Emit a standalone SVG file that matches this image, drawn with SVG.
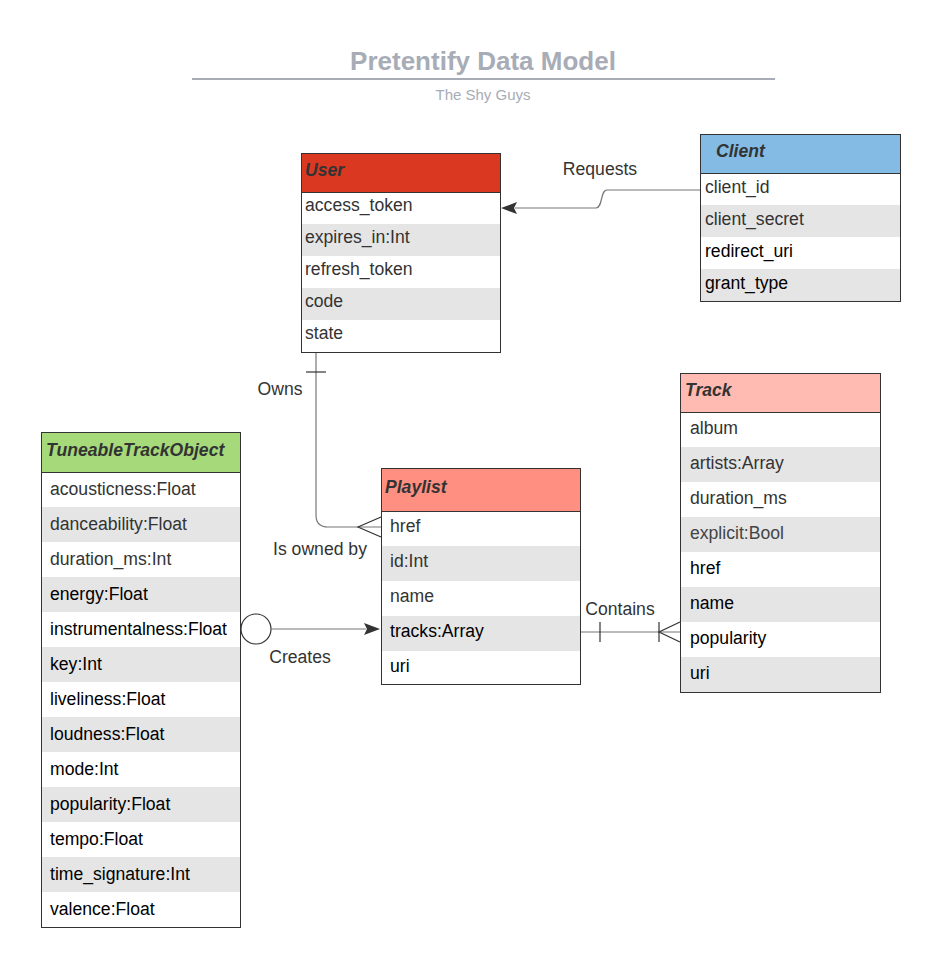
<svg xmlns="http://www.w3.org/2000/svg" width="947" height="967" viewBox="0 0 947 967">
<style>
text{font-family:"Liberation Sans",Arial,sans-serif;font-size:17.6px;fill:#333}
.hd{font-weight:bold;font-style:italic}
.b{fill:#000}
.g{fill:#e5e5e5}
.w{fill:#fff}
.frame{fill:none;stroke:#333;stroke-width:1}
.sep{stroke:#333;stroke-width:1}
.ln{fill:none;stroke:#777;stroke-width:1.2}
.mk{fill:none;stroke:#333;stroke-width:1.2}
.lbl{fill:#333}
</style>
<rect x="0" y="0" width="947" height="967" fill="#fff"/>
<g id="title">
<text x="483" y="70" text-anchor="middle" style="font-size:26px;font-weight:bold;fill:#a7acb6">Pretentify Data Model</text>
<line x1="192" y1="79" x2="775" y2="79" stroke="#a7acb6" stroke-width="2"/>
<text x="483" y="100" text-anchor="middle" style="font-size:15px;fill:#a7acb6">The Shy Guys</text>
</g>
<g id="connectors">
<path class="ln" d="M700,190 H607 C600,190 603,208 596,208 H515"/>
<polygon points="501,208 517,202 514,208 517,214" fill="#333"/>
<text x="600" y="175" text-anchor="middle">Requests</text>
<path class="ln" d="M316,352 V515 Q316,527 328,527 H381"/>
<line class="mk" x1="306" y1="372" x2="326" y2="372"/>
<path class="mk" d="M381,517 L358,527 L381,537"/>
<text x="280" y="395" text-anchor="middle">Owns</text>
<text x="320" y="555" text-anchor="middle">Is owned by</text>
<circle cx="256" cy="629" r="15" fill="#fff" stroke="#333" stroke-width="1.2"/>
<line class="ln" x1="271" y1="629" x2="366" y2="629"/>
<polygon points="380,629 364,623 367,629 364,635" fill="#333"/>
<text x="300" y="663" text-anchor="middle">Creates</text>
<line class="ln" x1="580" y1="632" x2="680" y2="632"/>
<line class="mk" x1="600" y1="622" x2="600" y2="642"/>
<line class="mk" x1="659" y1="622" x2="659" y2="642"/>
<path class="mk" d="M680,622 L659,632 L680,642"/>
<text x="620" y="615" text-anchor="middle">Contains</text>
</g>
<g id="user">
<rect x="301" y="153" width="199" height="39" fill="#da3821"/>
<rect class="w" x="301" y="192" width="199" height="32"/>
<rect class="g" x="301" y="224" width="199" height="32"/>
<rect class="w" x="301" y="256" width="199" height="32"/>
<rect class="g" x="301" y="288" width="199" height="32"/>
<rect class="w" x="301" y="320" width="199" height="32"/>
<line class="sep" x1="301" y1="192.5" x2="500" y2="192.5"/>
<rect class="frame" x="301.5" y="153.5" width="199" height="199"/>
<text class="hd" x="305" y="176">User</text>
<text x="305" y="211">access_token</text>
<text x="305" y="243">expires_in:Int</text>
<text x="305" y="275">refresh_token</text>
<text x="305" y="307">code</text>
<text x="305" y="339">state</text>
</g>
<g id="client">
<rect x="700" y="134" width="200" height="39" fill="#83bbe5"/>
<rect class="w" x="700" y="173" width="200" height="32"/>
<rect class="g" x="700" y="205" width="200" height="32"/>
<rect class="w" x="700" y="237" width="200" height="32"/>
<rect class="g" x="700" y="269" width="200" height="32"/>
<line class="sep" x1="700" y1="173.5" x2="900" y2="173.5"/>
<rect class="frame" x="700.5" y="134.5" width="200" height="167"/>
<text class="hd" x="716" y="157">Client</text>
<text x="705" y="193">client_id</text>
<text x="705" y="225">client_secret</text>
<text class="b" x="705" y="257">redirect_uri</text>
<text class="b" x="705" y="289">grant_type</text>
</g>
<g id="track">
<rect x="680" y="373" width="200" height="39" fill="#ffbbb1"/>
<rect class="w" x="680" y="412" width="200" height="35"/>
<rect class="g" x="680" y="447" width="200" height="35"/>
<rect class="w" x="680" y="482" width="200" height="35"/>
<rect class="g" x="680" y="517" width="200" height="35"/>
<rect class="w" x="680" y="552" width="200" height="35"/>
<rect class="g" x="680" y="587" width="200" height="35"/>
<rect class="w" x="680" y="622" width="200" height="35"/>
<rect class="g" x="680" y="657" width="200" height="35"/>
<line class="sep" x1="680" y1="412.5" x2="880" y2="412.5"/>
<rect class="frame" x="680.5" y="373.5" width="200" height="319"/>
<text class="hd" x="685" y="396">Track</text>
<text x="690" y="434">album</text>
<text x="690" y="469">artists:Array</text>
<text x="690" y="504">duration_ms</text>
<text x="690" y="539" style="fill:#444">explicit:Bool</text>
<text class="b" x="690" y="574">href</text>
<text class="b" x="690" y="609">name</text>
<text class="b" x="690" y="644">popularity</text>
<text class="b" x="690" y="679">uri</text>
</g>
<g id="playlist">
<rect x="381" y="468" width="199" height="43" fill="#ff8f80"/>
<rect class="w" x="381" y="511" width="199" height="35"/>
<rect class="g" x="381" y="546" width="199" height="35"/>
<rect class="w" x="381" y="581" width="199" height="35"/>
<rect class="g" x="381" y="616" width="199" height="35"/>
<rect class="w" x="381" y="651" width="199" height="33"/>
<line class="sep" x1="381" y1="511.5" x2="580" y2="511.5"/>
<rect class="frame" x="381.5" y="468.5" width="199" height="216"/>
<text class="hd" x="385" y="493">Playlist</text>
<text x="390" y="532">href</text>
<text x="390" y="567">id:Int</text>
<text x="390" y="602">name</text>
<text class="b" x="390" y="637">tracks:Array</text>
<text class="b" x="390" y="672">uri</text>
</g>
<g id="tuneable">
<rect x="41" y="432" width="199" height="40" fill="#a5d97a"/>
<rect class="w" x="41" y="472" width="199" height="35"/>
<rect class="g" x="41" y="507" width="199" height="35"/>
<rect class="w" x="41" y="542" width="199" height="35"/>
<rect class="g" x="41" y="577" width="199" height="35"/>
<rect class="w" x="41" y="612" width="199" height="35"/>
<rect class="g" x="41" y="647" width="199" height="35"/>
<rect class="w" x="41" y="682" width="199" height="35"/>
<rect class="g" x="41" y="717" width="199" height="35"/>
<rect class="w" x="41" y="752" width="199" height="35"/>
<rect class="g" x="41" y="787" width="199" height="35"/>
<rect class="w" x="41" y="822" width="199" height="35"/>
<rect class="g" x="41" y="857" width="199" height="35"/>
<rect class="w" x="41" y="892" width="199" height="35"/>
<line class="sep" x1="41" y1="472.5" x2="240" y2="472.5"/>
<rect class="frame" x="41.5" y="432.5" width="199" height="495"/>
<text class="hd" x="46" y="456">TuneableTrackObject</text>
<text x="50" y="495">acousticness:Float</text>
<text x="50" y="530">danceability:Float</text>
<text x="50" y="565">duration_ms:Int</text>
<text class="b" x="50" y="600">energy:Float</text>
<text class="b" x="50" y="635">instrumentalness:Float</text>
<text class="b" x="50" y="670">key:Int</text>
<text class="b" x="50" y="705">liveliness:Float</text>
<text class="b" x="50" y="740">loudness:Float</text>
<text class="b" x="50" y="775">mode:Int</text>
<text class="b" x="50" y="810">popularity:Float</text>
<text class="b" x="50" y="845">tempo:Float</text>
<text class="b" x="50" y="880">time_signature:Int</text>
<text class="b" x="50" y="915">valence:Float</text>
</g>
</svg>
